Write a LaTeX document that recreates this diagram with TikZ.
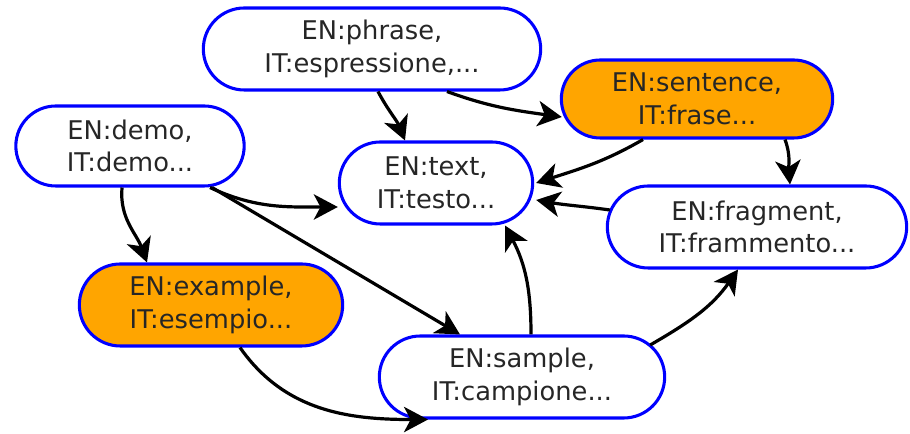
\documentclass[tikz,border=0pt]{standalone}
\usepackage{fontspec}
\setmainfont{DejaVu Sans}
\usepackage{xcolor}
\usepackage{tikz}
\usetikzlibrary{shapes.misc, arrows.meta, calc}

\definecolor{termblue}{HTML}{0000FF}
\definecolor{hitorange}{HTML}{FFA500}

\begin{document}
\begin{tikzpicture}[
    x=0.75pt,
    y=0.75pt,
    font=\fontsize{19.3}{24.5}\selectfont,
    term/.style={rounded rectangle, draw=termblue, line width=2.3pt, fill=white,
        text=black!85, align=center, minimum height=61.5pt, inner sep=1pt},
    hit/.style={term, fill=hitorange},
    link/.style={draw=black, line width=2.4pt,
        -{Stealth[length=18pt, width=19pt, inset=5pt]}}
]
    \useasboundingbox (0,0) rectangle (910,434);

    % --- Terms ---
    \node[term, minimum width=255pt] (phrase) at (372,385) {EN:phrase,\\IT:espressione,...};
    \node[hit, minimum width=205.5pt, minimum height=58.5pt] (sentence) at (697,335) {EN:sentence,\\IT:frase...};
    \node[term, minimum width=173.25pt, minimum height=60pt] (demo) at (130,288) {EN:demo,\\IT:demo...};
    \node[term, minimum width=147pt] (text) at (436,251) {EN:text,\\IT:testo...};
    \node[term, minimum width=226.5pt] (fragment) at (757,207) {EN:fragment,\\IT:frammento...};
    \node[hit, minimum width=199.5pt] (example) at (211,129) {EN:example,\\IT:esempio...};
    \node[term, minimum width=216pt] (sample) at (522,57) {EN:sample,\\IT:campione...};

    % --- Links ---
    \draw[link] ($(phrase.south)+(6,0)$) to[out=-62, in=112] ($(text.north)+(-31,0)$);
    \draw[link] ($(phrase.south)+(75,0)$) to[out=-20, in=172] ($(sentence.west)+(2,-18)$);
    \draw[link] ($(sentence.south)+(-54,0)$) to[out=-150, in=18] ($(text.east)+(2,0)$);
    \draw[link] ($(sentence.south)+(88,0)$) to[out=-70, in=95] ($(fragment.north)+(33,0)$);
    \draw[link] ($(fragment.west)+(4,17)$) to[out=172, in=-10] ($(text.east)+(2,-17)$);
    \draw[link] ($(demo.south)+(80,0)$) to[out=-25, in=180] ($(text.west)+(0,-24)$);
    \draw[link] ($(demo.south)+(82,0)$) -- ($(sample.north)+(-62,0)$);
    \draw[link] ($(demo.south)+(-8,0)$) to[out=-95, in=110] ($(example.north)+(-64,0)$);
    \draw[link] ($(example.south)+(29,0)$) to[out=-55, in=180] ($(sample.south)+(-94,0)$);
    \draw[link] ($(sample.north)+(9,0)$) to[out=90, in=-62] ($(text.south)+(69,0)$);
    \draw[link] ($(sample.east)+(-16,32)$) to[out=30, in=235] ($(fragment.south)+(-19,0)$);
\end{tikzpicture}
\end{document}
